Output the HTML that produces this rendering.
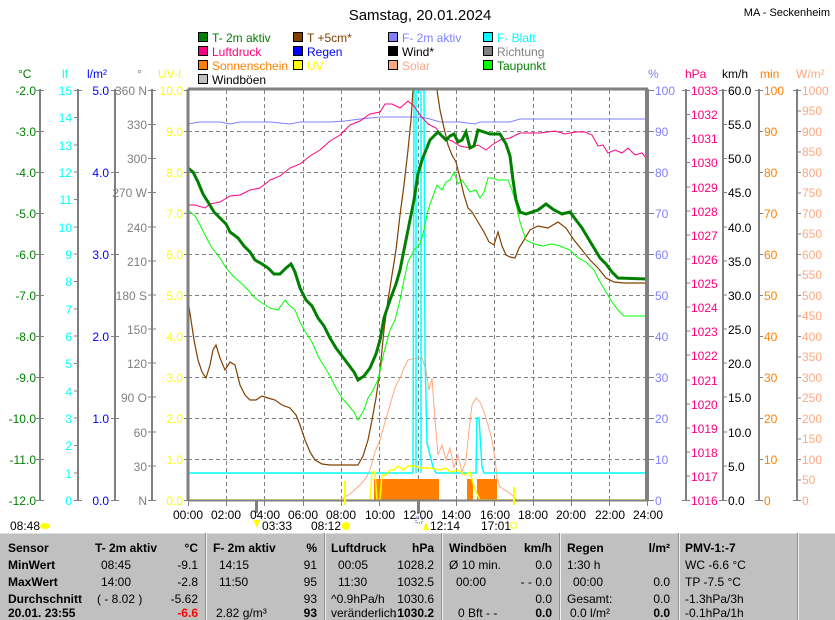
<!DOCTYPE html>
<html><head><meta charset="utf-8"><style>
body{margin:0;background:#fff;width:835px;height:620px;overflow:hidden;font-family:"Liberation Sans",sans-serif}
svg{display:block}
text{font-family:"Liberation Sans",sans-serif;font-size:12px}
</style></head><body>
<svg width="835" height="620" viewBox="0 0 835 620" xmlns="http://www.w3.org/2000/svg">
<rect width="835" height="620" fill="#fff"/>
<text x="420" y="20" text-anchor="middle" font-size="15" style="font-size:15px">Samstag, 20.01.2024</text>
<text x="830" y="16" text-anchor="end" style="font-size:11px">MA - Seckenheim</text>
<!-- legend -->
<g stroke="#000" stroke-width="1">
<rect x="198.5" y="32.5" width="9" height="9" fill="#008000"/><rect x="293.5" y="32.5" width="9" height="9" fill="#804000"/><rect x="388.5" y="32.5" width="9" height="9" fill="#8080ff"/><rect x="483.5" y="32.5" width="9" height="9" fill="#00ffff"/>
<rect x="198.5" y="46.5" width="9" height="9" fill="#ff0080"/><rect x="293.5" y="46.5" width="9" height="9" fill="#0000ff"/><rect x="388.5" y="46.5" width="9" height="9" fill="#000"/><rect x="483.5" y="46.5" width="9" height="9" fill="#808080"/>
<rect x="198.5" y="60.5" width="9" height="9" fill="#ff8000"/><rect x="293.5" y="60.5" width="9" height="9" fill="#ffff00"/><rect x="388.5" y="60.5" width="9" height="9" fill="#ffa880"/><rect x="483.5" y="60.5" width="9" height="9" fill="#00ff00"/>
<rect x="198.5" y="74.5" width="9" height="9" fill="#c0c0c0"/>
</g>
<g style="font-size:12px">
<text x="212" y="42" fill="#008000">T- 2m aktiv</text><text x="307" y="42" fill="#804000">T +5cm*</text><text x="402" y="42" fill="#8080ff">F- 2m aktiv</text><text x="497" y="42" fill="#00ffff">F- Blatt</text>
<text x="212" y="56" fill="#ff0080">Luftdruck</text><text x="307" y="56" fill="#0000ff">Regen</text><text x="402" y="56" fill="#000">Wind*</text><text x="497" y="56" fill="#808080">Richtung</text>
<text x="212" y="70" fill="#ff8000">Sonnenschein</text><text x="307" y="70" fill="#ffff00">UV</text><text x="402" y="70" fill="#ffa880">Solar</text><text x="497" y="70" fill="#008000">Taupunkt</text>
<text x="212" y="84" fill="#000">Windböen</text>
</g>
<!-- unit headers -->
<g style="font-size:11px">
<text x="18" y="78" fill="#008000">°C</text><text x="62" y="78" fill="#00ffff">lf</text><text x="87" y="78" fill="#0000ff">l/m²</text><text x="137" y="78" fill="#808080">°</text><text x="158" y="78" fill="#ffff00">UV-I</text>
<text x="648" y="78" fill="#8080ff">%</text><text x="685" y="78" fill="#ff0080">hPa</text><text x="722" y="78" fill="#000">km/h</text><text x="760" y="78" fill="#ff8000">min</text><text x="796" y="78" fill="#ffa880">W/m²</text>
</g>
<!-- axis lines -->
<g stroke="#808080" stroke-width="2">
<line x1="40" y1="89" x2="40" y2="501"/><line x1="78" y1="89" x2="78" y2="501"/><line x1="115" y1="89" x2="115" y2="501"/><line x1="152" y1="89" x2="152" y2="501"/>
<line x1="686" y1="89" x2="686" y2="501"/><line x1="723" y1="89" x2="723" y2="501"/><line x1="759" y1="89" x2="759" y2="501"/><line x1="797" y1="89" x2="797" y2="501"/>
</g>
<!-- grid -->
<g stroke="#808080" stroke-width="1" stroke-dasharray="4,3">
<line x1="188" y1="131.5" x2="648" y2="131.5"/><line x1="188" y1="172.5" x2="648" y2="172.5"/><line x1="188" y1="213.5" x2="648" y2="213.5"/><line x1="188" y1="254.5" x2="648" y2="254.5"/><line x1="188" y1="295.5" x2="648" y2="295.5"/><line x1="188" y1="336.5" x2="648" y2="336.5"/><line x1="188" y1="377.5" x2="648" y2="377.5"/><line x1="188" y1="418.5" x2="648" y2="418.5"/><line x1="188" y1="459.5" x2="648" y2="459.5"/>
<line x1="226.5" y1="90" x2="226.5" y2="500"/><line x1="264.5" y1="90" x2="264.5" y2="500"/><line x1="303.5" y1="90" x2="303.5" y2="500"/><line x1="341.5" y1="90" x2="341.5" y2="500"/><line x1="379.5" y1="90" x2="379.5" y2="500"/><line x1="418.5" y1="90" x2="418.5" y2="500"/><line x1="456.5" y1="90" x2="456.5" y2="500"/><line x1="494.5" y1="90" x2="494.5" y2="500"/><line x1="533.5" y1="90" x2="533.5" y2="500"/><line x1="571.5" y1="90" x2="571.5" y2="500"/><line x1="609.5" y1="90" x2="609.5" y2="500"/>
</g>
<!-- ticks -->
<g stroke="#808080" stroke-width="1">
<path d="M36 90.5h8M36 131.5h8M36 172.5h8M36 213.5h8M36 254.5h8M36 295.5h8M36 336.5h8M36 377.5h8M36 418.5h8M36 459.5h8M36 500.5h8"/>
<path d="M74 90.5h8M74 117.5h4M74 145h4M74 172h4M74 199.5h4M74 227h4M74 254h4M74 281.5h4M74 309h4M74 336h4M74 363.5h4M74 391h4M74 418h4M74 445.5h4M74 473h4M74 500.5h8"/>
<path d="M111 90.5h8M111 172.5h8M111 254.5h8M111 336.5h8M111 418.5h8M111 500.5h8"/>
<path d="M148 90.5h8M148 124.5h8M148 158.5h8M148 192.5h8M148 227h8M148 261h8M148 295h8M148 329h8M148 363h8M148 397h8M148 432h8M148 466h8M148 500.5h8"/>
<path d="M184 90.5h6M184 131.5h6M184 172.5h6M184 213.5h6M184 254.5h6M184 295.5h6M184 336.5h6M184 377.5h6M184 418.5h6M184 459.5h6M184 500.5h6"/>
<path d="M646 90.5h8M646 131.5h8M646 172.5h8M646 213.5h8M646 254.5h8M646 295.5h8M646 336.5h8M646 377.5h8M646 418.5h8M646 459.5h8M646 500.5h8"/>
<path d="M682 90.5h8M686 114.5h4M686 138.5h4M686 162.5h4M686 187h4M686 211h4M686 235h4M686 259h4M686 283h4M686 307h4M686 331h4M686 355h4M686 380h4M686 404h4M686 428h4M686 452h4M686 476h4M682 500.5h8"/>
<path d="M719 90.5h8M723 124.5h4M723 158.5h4M723 192.5h4M723 227h4M723 261h4M723 295h4M723 329h4M723 363h4M723 397h4M723 432h4M723 466h4M719 500.5h8"/>
<path d="M755 90.5h8M759 131.5h4M759 172.5h4M759 213.5h4M759 254.5h4M759 295.5h4M759 336.5h4M759 377.5h4M759 418.5h4M759 459.5h4M755 500.5h8"/>
<path d="M793 90.5h8M797 111h4M797 131.5h4M797 152h4M797 172.5h4M797 193h4M797 213.5h4M797 234h4M797 254.5h4M797 275h4M797 295.5h4M797 316h4M797 336.5h4M797 357h4M797 377.5h4M797 398h4M797 418.5h4M797 439h4M797 459.5h4M797 480h4M793 500.5h8"/>
</g>
<!-- left labels -->
<g text-anchor="end" fill="#008000">
<text x="36" y="95">-2.0</text><text x="36" y="136">-3.0</text><text x="36" y="177">-4.0</text><text x="36" y="218">-5.0</text><text x="36" y="259">-6.0</text><text x="36" y="300">-7.0</text><text x="36" y="341">-8.0</text><text x="36" y="382">-9.0</text><text x="36" y="423">-10.0</text><text x="36" y="464">-11.0</text><text x="36" y="505">-12.0</text>
</g>
<g text-anchor="end" fill="#00ffff">
<text x="72" y="95">15</text><text x="72" y="122">14</text><text x="72" y="150">13</text><text x="72" y="177">12</text><text x="72" y="204">11</text><text x="72" y="232">10</text><text x="72" y="259">9</text><text x="72" y="286">8</text><text x="72" y="314">7</text><text x="72" y="341">6</text><text x="72" y="368">5</text><text x="72" y="396">4</text><text x="72" y="423">3</text><text x="72" y="450">2</text><text x="72" y="478">1</text><text x="72" y="505">0</text>
</g>
<g text-anchor="end" fill="#0000ff">
<text x="109" y="95">5.0</text><text x="109" y="177">4.0</text><text x="109" y="259">3.0</text><text x="109" y="341">2.0</text><text x="109" y="423">1.0</text><text x="109" y="505">0.0</text>
</g>
<g text-anchor="end" fill="#808080">
<text x="147" y="95">360 N</text><text x="147" y="129">330</text><text x="147" y="163">300</text><text x="147" y="197">270 W</text><text x="147" y="232">240</text><text x="147" y="266">210</text><text x="147" y="300">180 S</text><text x="147" y="334">150</text><text x="147" y="368">120</text><text x="147" y="402">90 O</text><text x="147" y="437">60</text><text x="147" y="471">30</text><text x="147" y="505">N</text>
</g>
<g text-anchor="end" fill="#ffff00">
<text x="183" y="95">10.0</text><text x="183" y="136">9.0</text><text x="183" y="177">8.0</text><text x="183" y="218">7.0</text><text x="183" y="259">6.0</text><text x="183" y="300">5.0</text><text x="183" y="341">4.0</text><text x="183" y="382">3.0</text><text x="183" y="423">2.0</text><text x="183" y="464">1.0</text><text x="183" y="505">0.0</text>
</g>
<!-- right labels -->
<g fill="#8080ff">
<text x="655" y="95">100</text><text x="655" y="136">90</text><text x="655" y="177">80</text><text x="655" y="218">70</text><text x="655" y="259">60</text><text x="655" y="300">50</text><text x="655" y="341">40</text><text x="655" y="382">30</text><text x="655" y="423">20</text><text x="655" y="464">10</text><text x="655" y="505">0</text>
</g>
<g fill="#ff0080">
<text x="691" y="95">1033</text><text x="691" y="119">1032</text><text x="691" y="143">1031</text><text x="691" y="167">1030</text><text x="691" y="192">1029</text><text x="691" y="216">1028</text><text x="691" y="240">1027</text><text x="691" y="264">1026</text><text x="691" y="288">1025</text><text x="691" y="312">1024</text><text x="691" y="336">1023</text><text x="691" y="360">1022</text><text x="691" y="385">1021</text><text x="691" y="409">1020</text><text x="691" y="433">1019</text><text x="691" y="457">1018</text><text x="691" y="481">1017</text><text x="691" y="505">1016</text>
</g>
<g fill="#000">
<text x="728" y="95">60.0</text><text x="728" y="129">55.0</text><text x="728" y="163">50.0</text><text x="728" y="197">45.0</text><text x="728" y="232">40.0</text><text x="728" y="266">35.0</text><text x="728" y="300">30.0</text><text x="728" y="334">25.0</text><text x="728" y="368">20.0</text><text x="728" y="402">15.0</text><text x="728" y="437">10.0</text><text x="728" y="471">5.0</text><text x="728" y="505">0.0</text>
</g>
<g fill="#ff8000">
<text x="764" y="95">100</text><text x="764" y="136">90</text><text x="764" y="177">80</text><text x="764" y="218">70</text><text x="764" y="259">60</text><text x="764" y="300">50</text><text x="764" y="341">40</text><text x="764" y="382">30</text><text x="764" y="423">20</text><text x="764" y="464">10</text><text x="764" y="505">0</text>
</g>
<g fill="#ffa880">
<text x="802" y="95">1000</text><text x="802" y="115">950</text><text x="802" y="136">900</text><text x="802" y="156">850</text><text x="802" y="177">800</text><text x="802" y="197">750</text><text x="802" y="218">700</text><text x="802" y="238">650</text><text x="802" y="259">600</text><text x="802" y="279">550</text><text x="802" y="300">500</text><text x="802" y="320">450</text><text x="802" y="341">400</text><text x="802" y="361">350</text><text x="802" y="382">300</text><text x="802" y="402">250</text><text x="802" y="423">200</text><text x="802" y="443">150</text><text x="802" y="464">100</text><text x="802" y="484">50</text><text x="802" y="505">0</text>
</g>
<!-- sunshine bars -->
<g fill="#ff8000">
<rect x="374" y="479" width="65" height="21"/><rect x="467" y="479" width="6" height="21"/><rect x="477" y="479" width="20" height="21"/>
</g>
<!-- series -->
<g fill="none">
<polyline stroke="#ffa880" stroke-width="1" points="340,500 350,494 360,485 366,478 370,470 375,452 380,440 385,422 390,405 395,388 400,378 404,368 408,360 412,359 418,358 422,358 426,370 429,390 432,378 435,420 438,455 442,445 446,460 450,448 454,468 458,455 462,472 466,460 469,430 472,405 476,398 480,402 484,412 488,425 492,440 495,458 497,478 500,487 508,492 513,496 517,500"/>
<polyline stroke="#00ffff" stroke-width="1.5" points="188,473 413,473 414,90 424,90 425,355 427,443 433,467 436,473 476,473 477,418 479,418 482,467 484,473 648,473"/>
<polyline stroke="#00ffff" stroke-width="1.5" points="416,473 416,92 421,92 421,473"/>
<polyline stroke="#ffff00" stroke-width="1.5" points="188,500 370,500 372,472 375,472 377,500 380,500 382,475 386,475 390,470 394,470 398,466 403,470 408,466 414,466 420,468 430,468 440,470 446,468 450,472 458,470 465,475 470,472 475,490 480,500 648,500"/>
<polyline stroke="#8080ff" stroke-width="1" points="188,124 200,122 220,122 230,124 240,122 270,122 290,124 300,122 330,122 345,121 360,119 380,117 400,117 420,117 430,119 440,122 460,122 475,124 480,122 500,122 510,122 520,119 560,119 600,119 648,119"/>
<polyline stroke="#ff0080" stroke-width="1" points="188,205 195,205 205,208 210,204 220,202 230,196 240,195 250,190 260,188 270,180 280,176 290,168 300,164 310,156 320,150 330,141 340,135 350,125 360,121 370,114 380,112 385,104 392,104 400,108 408,101 414,106 420,115 428,124 436,128 444,138 452,141 460,146 470,148 478,145 486,150 492,145 500,140 510,138 520,133 540,133 555,131 565,134 575,132 585,132 592,135 598,146 603,145 608,153 615,150 622,153 628,148 635,155 642,153 646,158"/>
<polyline stroke="#804000" stroke-width="1.2" points="188,300 191,320 194,340 198,360 202,372 206,378 210,365 213,350 216,345 220,358 225,370 230,362 235,365 240,385 245,395 250,400 256,400 262,396 268,398 275,400 282,405 290,408 296,415 300,425 305,440 310,452 315,460 322,464 330,465 345,465 358,465 363,456 368,440 372,420 376,398 380,370 384,330 388,300 392,275 396,250 400,215 404,185 408,150 411,120 413,90"/>
<polyline stroke="#804000" stroke-width="1.2" points="437,90 440,110 444,128 448,145 452,155 456,162 460,178 464,195 468,208 472,212 478,222 484,232 489,242 494,245 498,232 502,246 506,255 510,257 515,258 519,248 524,240 530,230 538,226 548,228 558,222 566,228 574,240 582,250 590,260 598,268 606,278 614,282 624,283 648,283"/>
<polyline stroke="#00ff00" stroke-width="1" points="188,210 195,216 200,225 205,235 212,248 220,258 226,268 233,276 240,282 248,290 255,298 262,303 270,308 278,310 285,300 290,306 295,310 300,322 306,333 312,342 318,356 324,366 330,376 336,388 342,398 348,405 354,412 358,420 364,410 368,398 372,392 378,380 384,352 390,330 395,320 400,300 404,280 408,262 414,250 420,244 424,230 428,210 433,196 437,185 442,190 446,182 450,180 454,172 458,184 462,180 466,186 470,192 476,190 480,198 484,192 488,178 492,178 498,180 508,180 512,190 516,204 520,222 526,240 534,244 542,246 552,244 560,246 570,250 578,258 586,262 594,270 600,282 606,292 612,302 618,310 624,316 648,316"/>
<polyline stroke="#008000" stroke-width="3" points="188,168 193,172 198,182 203,194 208,202 214,212 220,218 226,224 230,232 238,238 244,246 250,252 255,260 262,264 268,268 274,274 280,274 286,268 291,264 295,272 300,288 306,300 312,306 318,318 324,326 330,338 336,348 342,356 348,364 354,372 358,380 364,376 370,368 376,354 380,340 384,318 390,300 396,284 400,270 404,250 410,220 414,200 418,174 422,160 426,150 430,140 434,136 438,132 446,140 450,136 454,134 458,142 462,140 466,132 470,148 474,146 478,130 484,132 490,134 500,134 506,144 510,156 513,180 516,200 520,212 526,214 532,212 538,210 546,204 554,210 562,214 570,212 576,220 582,228 588,238 594,248 600,258 606,264 612,272 618,278 648,279"/>
</g>
<!-- plot frame -->
<line x1="188" y1="89" x2="188" y2="501" stroke="#808080" stroke-width="3"/>
<line x1="647" y1="89" x2="647" y2="501" stroke="#808080" stroke-width="4"/>
<line x1="188" y1="89" x2="648" y2="89" stroke="#808080" stroke-width="3"/>
<line x1="188" y1="500.5" x2="648" y2="500.5" stroke="#808080" stroke-width="2"/>
<g stroke="#808080"><path d="M188.5 501v5M226.5 501v5M264.5 501v5M303.5 501v5M341.5 501v5M379.5 501v5M418.5 501v5M456.5 501v5M494.5 501v5M533.5 501v5M571.5 501v5M609.5 501v5M647.5 501v5"/></g>
<rect x="255" y="501" width="3" height="12" fill="#808080"/><rect x="417" y="501" width="3" height="12" fill="#808080"/>
<rect x="344" y="481" width="2" height="24" fill="#ffff00"/><rect x="513" y="487" width="2" height="18" fill="#ffff00"/>
<!-- x labels -->
<g text-anchor="middle" fill="#000">
<text x="188" y="519">00:00</text><text x="226" y="519">02:00</text><text x="265" y="519">04:00</text><text x="303" y="519">06:00</text><text x="341" y="519">08:00</text><text x="380" y="519">10:00</text><text x="418" y="519">12:00</text><text x="456" y="519">14:00</text><text x="495" y="519">16:00</text><text x="533" y="519">18:00</text><text x="571" y="519">20:00</text><text x="610" y="519">22:00</text><text x="648" y="519">24:00</text>
</g>
<g fill="#000">
<text x="10" y="530">08:48</text><ellipse cx="45" cy="526" rx="5" ry="3" fill="#ffff00"/>
<text x="262" y="530">03:33</text><path d="M253 520l4 8 3-8z" fill="#ffff00"/>
<text x="311" y="530">08:12</text><circle cx="346" cy="526" r="4" fill="#ffff00"/>
<text x="430" y="530">12:14</text><path d="M423 530l3-8 3 8z" fill="#ffff00"/><rect x="416" y="517" width="6" height="6" fill="none" stroke="#5050a0" stroke-dasharray="1,1"/>
<text x="481" y="530">17:01</text><rect x="511" y="523" width="5" height="5" fill="none" stroke="#ffff00"/>
</g>
<!-- table -->
<rect x="0" y="533" width="835" height="87" fill="#c0c0c0"/>
<line x1="0" y1="533.5" x2="835" y2="533.5" stroke="#e0e0e0"/>
<g stroke="#f0f0f0" stroke-width="1"><path d="M206.5 533v87M325.5 533v87M442.5 533v87M560.5 533v87M679.5 533v87M798.5 533v87"/></g>
<g stroke="#909090" stroke-width="1"><path d="M205.5 533v87M324.5 533v87M441.5 533v87M559.5 533v87M678.5 533v87M797.5 533v87"/></g>
<g style="font-size:11px" fill="#000">
<g font-weight="bold">
<text x="8" y="552">Sensor</text><text x="8" y="569">MinWert</text><text x="8" y="586">MaxWert</text><text x="8" y="603">Durchschnitt</text><text x="8" y="617">20.01. 23:55</text>
<text x="95" y="552">T- 2m aktiv</text><text x="198" y="552" text-anchor="end">°C</text>
<text x="213" y="552">F- 2m aktiv</text><text x="317" y="552" text-anchor="end">%</text>
<text x="331" y="552">Luftdruck</text><text x="434" y="552" text-anchor="end">hPa</text>
<text x="449" y="552">Windböen</text><text x="552" y="552" text-anchor="end">km/h</text>
<text x="567" y="552">Regen</text><text x="670" y="552" text-anchor="end">l/m²</text>
<text x="685" y="552">PMV-1:-7</text>
<text x="198" y="617" text-anchor="end" fill="#ff0000">-6.6</text><text x="317" y="617" text-anchor="end">93</text><text x="434" y="617" text-anchor="end">1030.2</text><text x="552" y="617" text-anchor="end">0.0</text><text x="670" y="617" text-anchor="end">0.0</text>
</g>
<text x="101" y="569">08:45</text><text x="198" y="569" text-anchor="end">-9.1</text>
<text x="101" y="586">14:00</text><text x="198" y="586" text-anchor="end">-2.8</text>
<text x="97" y="603">( - 8.02 )</text><text x="198" y="603" text-anchor="end">-5.62</text>
<text x="219" y="569">14:15</text><text x="317" y="569" text-anchor="end">91</text>
<text x="219" y="586">11:50</text><text x="317" y="586" text-anchor="end">95</text>
<text x="317" y="603" text-anchor="end">93</text><text x="216" y="617">2.82 g/m³</text>
<text x="338" y="569">00:05</text><text x="434" y="569" text-anchor="end">1028.2</text>
<text x="338" y="586">11:30</text><text x="434" y="586" text-anchor="end">1032.5</text>
<text x="331" y="603">^0.9hPa/h</text><text x="434" y="603" text-anchor="end">1030.6</text>
<text x="331" y="617">veränderlich</text><text x="392" y="617" font-weight="bold">↓</text>
<text x="449" y="569">Ø 10 min.</text><text x="552" y="569" text-anchor="end">0.0</text>
<text x="456" y="586">00:00</text><text x="552" y="586" text-anchor="end">- - 0.0</text>
<text x="552" y="603" text-anchor="end">0.0</text><text x="458" y="617">0 Bft - -</text>
<text x="567" y="569">1:30 h</text>
<text x="573" y="586">00:00</text><text x="670" y="586" text-anchor="end">0.0</text>
<text x="567" y="603">Gesamt:</text><text x="670" y="603" text-anchor="end">0.0</text>
<text x="570" y="617">0.0 l/m²</text>
<text x="685" y="569">WC -6.6 °C</text><text x="685" y="586">TP -7.5 °C</text><text x="685" y="603">-1.3hPa/3h</text><text x="685" y="617">-0.1hPa/1h</text>
</g>
</svg>
</body></html>
